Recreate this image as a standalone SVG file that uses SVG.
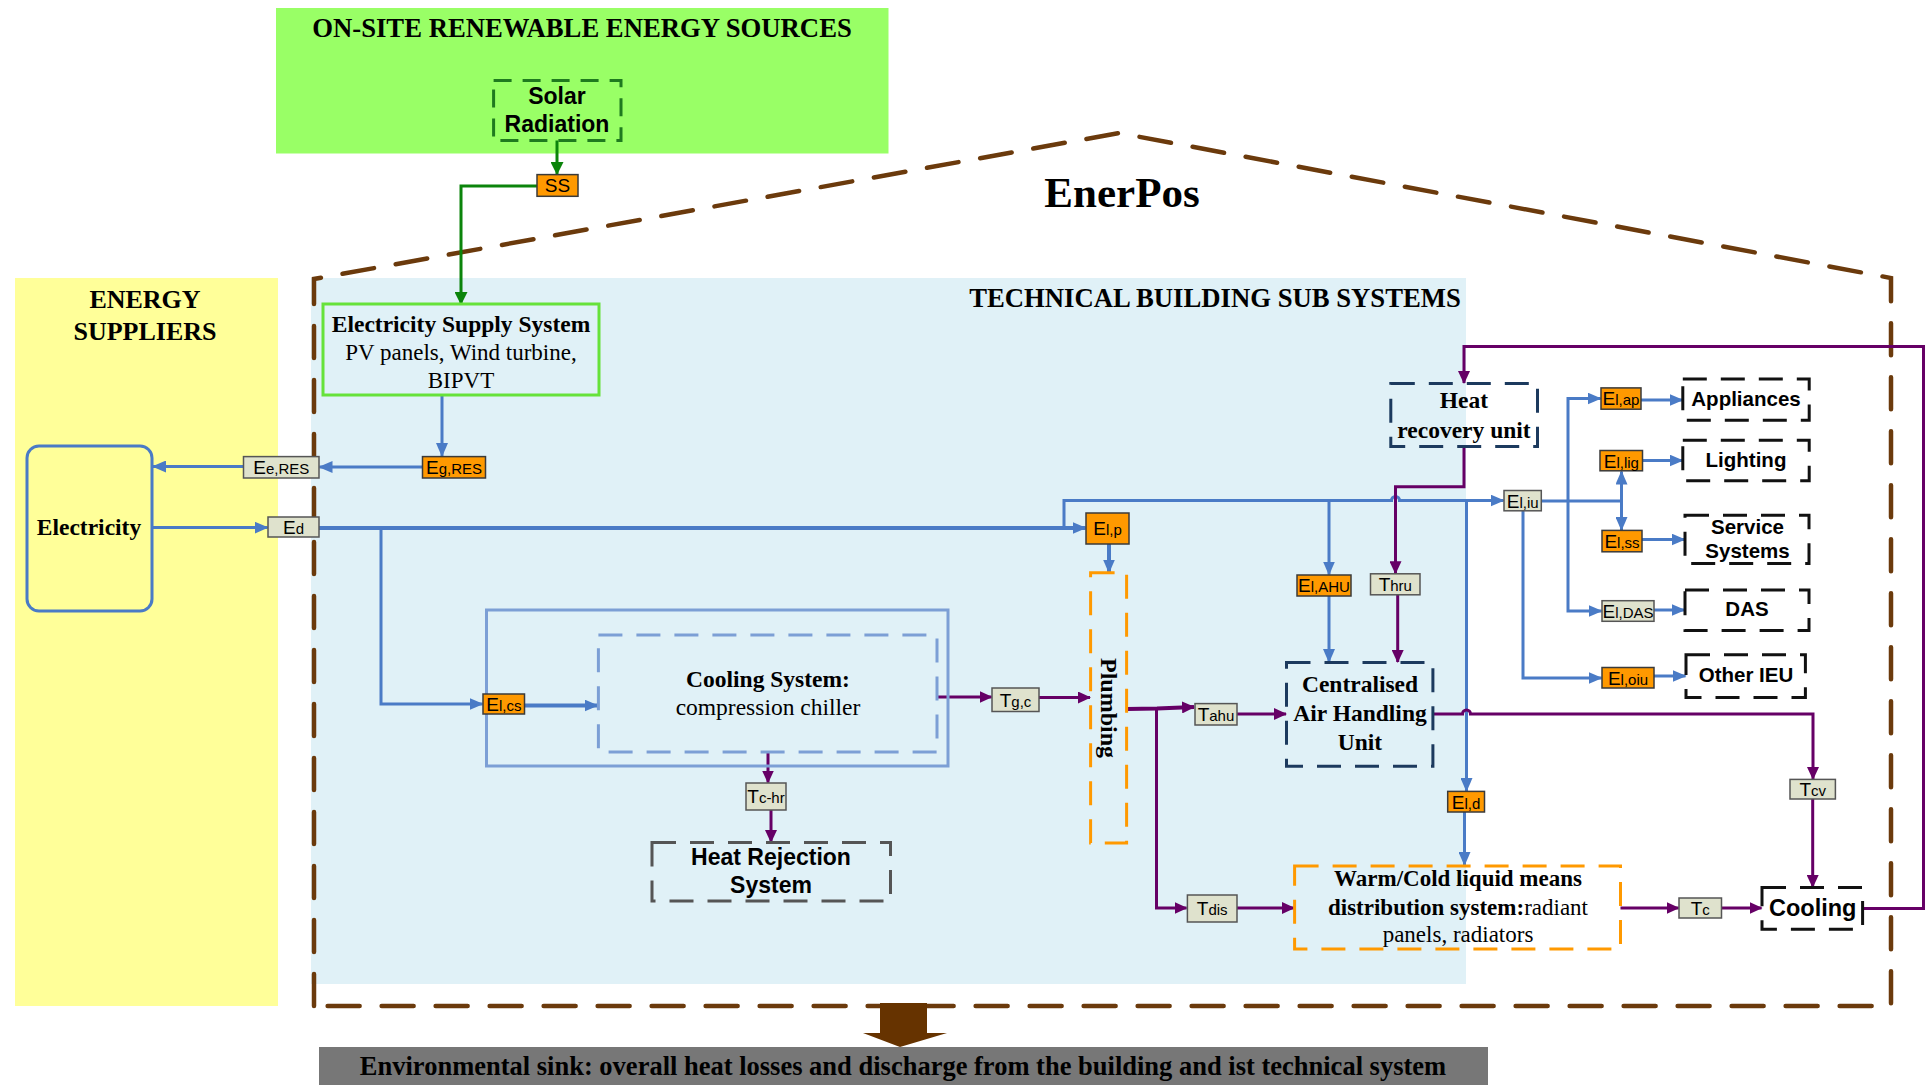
<svg xmlns="http://www.w3.org/2000/svg" width="1926" height="1085" viewBox="0 0 1926 1085">
<defs>
<style>
.ser{font-family:"Liberation Serif","Times New Roman",serif;}
.san{font-family:"Liberation Sans",Arial,sans-serif;}
.b{font-weight:bold;}
.n{font-weight:normal;}
.mid{text-anchor:middle;}
.lab{font-family:"Liberation Sans",Arial,sans-serif;font-size:19px;text-anchor:middle;fill:#000;}
.sub{font-size:15px;}
.lo{fill:#ff9900;stroke:#3a3a3a;stroke-width:1.5;}
.lb{fill:#dfe2cd;stroke:#555;stroke-width:1.5;}
.bl{stroke:#4a7bc6;stroke-width:3;fill:none;}
.blt{stroke:#4a7bc6;stroke-width:4;fill:none;}
.pu{stroke:#660066;stroke-width:3;fill:none;}
.put{stroke:#660066;stroke-width:4;fill:none;}
.gr{stroke:#0b840b;stroke-width:3;fill:none;}
.dk{fill:none;stroke:#111;stroke-width:3;stroke-dasharray:24 14;}
.dn{fill:none;stroke:#1c3a5e;stroke-width:3;stroke-dasharray:24 14;}
.dor{fill:none;stroke:#ff9900;stroke-width:3;stroke-dasharray:24 14;}
.dg{fill:none;stroke:#555;stroke-width:3;stroke-dasharray:24 14;}
</style>
<marker id="mb" viewBox="0 0 14 12" markerWidth="14" markerHeight="12" refX="13" refY="6" orient="auto" markerUnits="userSpaceOnUse"><path d="M0,0 L14,6 L0,12 z" fill="#4a7bc6"/></marker>
<marker id="mp" viewBox="0 0 13 12" markerWidth="13" markerHeight="12" refX="12" refY="6" orient="auto" markerUnits="userSpaceOnUse"><path d="M0,0 L13,6 L0,12 z" fill="#660066"/></marker>
<marker id="mg" viewBox="0 0 13 13" markerWidth="13" markerHeight="13" refX="12" refY="6.5" orient="auto" markerUnits="userSpaceOnUse"><path d="M0,0 L13,6.5 L0,13 z" fill="#0b840b"/></marker>
</defs>
<rect width="1926" height="1085" fill="#ffffff"/>

<!-- regions -->
<g id="renewables-region">
<rect x="276" y="8" width="612.5" height="145.5" fill="#99ff66"/>
<text class="ser b mid" x="582" y="37" font-size="26.7">ON-SITE RENEWABLE ENERGY SOURCES</text>
</g>
<g id="suppliers-region">
<rect x="15" y="278" width="263" height="728" fill="#ffff99"/>
<text class="ser b mid" x="145" y="308" font-size="26">ENERGY</text>
<text class="ser b mid" x="145" y="339.5" font-size="26">SUPPLIERS</text>
</g>
<g id="technical-region">
<rect x="311" y="278" width="1155" height="706" fill="#e0f1f7"/>
<text class="ser b mid" x="1215" y="306.5" font-size="26.7">TECHNICAL BUILDING SUB SYSTEMS</text>
</g>
<g id="enerpos-building">
<path d="M314,1006 L314,279 L1119,133 L1891,278 L1891,1006 Z" fill="none" stroke="#6b3a0c" stroke-width="4.5" stroke-linecap="round" stroke-dasharray="32 22"/>
<text class="ser b mid" x="1122" y="206.5" font-size="43">EnerPos</text>
</g>
<g id="environmental-sink">
<path d="M880,1003 H927 V1033 H947 L900,1047 L863,1033 H880 Z" fill="#663300"/>
<rect x="319" y="1047" width="1169" height="38" fill="#777777"/>
<text class="ser b mid" x="903" y="1075" font-size="26.5">Environmental sink: overall heat losses and discharge from the building and ist technical system</text>
</g>

<!-- connectors -->
<g id="connectors">
<path class="gr" d="M557,140.5 V174" marker-end="url(#mg)"/>
<path class="gr" d="M537,186 H461 V304" marker-end="url(#mg)"/>
<path class="bl" d="M442,395 V456" marker-end="url(#mb)"/>
<path class="bl" d="M422.5,467 H319.5" marker-end="url(#mb)"/>
<path class="bl" d="M243.5,466.5 H153" marker-end="url(#mb)"/>
<path class="bl" d="M152,527.6 H267.5" marker-end="url(#mb)"/>
<path class="blt" d="M319,528 H1085.5" marker-end="url(#mb)"/>
<path class="bl" d="M381,528 V704 H482.5" marker-end="url(#mb)"/>
<path class="blt" d="M524.5,705.5 H597.5" marker-end="url(#mb)"/>
<path class="bl" d="M1064,528 V500.5 H1391.5 A4,4 0 0 1 1399.5,500.5 H1503.5" marker-end="url(#mb)"/>
<path class="blt" d="M1109,544 V572.5" marker-end="url(#mb)"/>
<path class="bl" d="M1329,500.5 V574.5" marker-end="url(#mb)"/>
<path class="bl" d="M1329,596 V662" marker-end="url(#mb)"/>
<path class="bl" d="M1466.5,500.5 V791" marker-end="url(#mb)"/>
<path class="bl" d="M1464.5,812 V865" marker-end="url(#mb)"/>
<path class="bl" d="M1541,501 H1621.5"/>
<path class="bl" d="M1621.5,501 V471.5" marker-end="url(#mb)"/>
<path class="bl" d="M1621.5,501 V530" marker-end="url(#mb)"/>
<path class="bl" d="M1568,501 V398.5 H1600.5" marker-end="url(#mb)"/>
<path class="bl" d="M1568,501 V611 H1601.5" marker-end="url(#mb)"/>
<path class="bl" d="M1523,511 V678 H1601.5" marker-end="url(#mb)"/>
<path class="bl" d="M1641,400 H1682.5" marker-end="url(#mb)"/>
<path class="bl" d="M1642.5,460.5 H1682.5" marker-end="url(#mb)"/>
<path class="bl" d="M1642,539.5 H1684.5" marker-end="url(#mb)"/>
<path class="bl" d="M1654,610 H1684.5" marker-end="url(#mb)"/>
<path class="bl" d="M1654,676 H1685.5" marker-end="url(#mb)"/>

<path class="pu" d="M936,697 H991.5" marker-end="url(#mp)"/>
<path class="pu" d="M1039,697.5 H1090" marker-end="url(#mp)"/>
<path class="pu" d="M768,752 V782.5" marker-end="url(#mp)"/>
<path class="pu" d="M771,810 V842" marker-end="url(#mp)"/>
<path class="put" d="M1127,709 L1157,708.5 L1194,707" marker-end="url(#mp)"/>
<path class="pu" d="M1156.5,708.5 V908 H1186.5" marker-end="url(#mp)"/>
<path class="pu" d="M1237,714 H1286" marker-end="url(#mp)"/>
<path class="pu" d="M1237,908 H1294" marker-end="url(#mp)"/>
<path class="pu" d="M1433,714 H1462.5 A4,4 0 0 1 1470.5,714 H1813 V779" marker-end="url(#mp)"/>
<path class="pu" d="M1812.7,799 V887" marker-end="url(#mp)"/>
<path class="pu" d="M1620.5,908 H1678.5" marker-end="url(#mp)"/>
<path class="pu" d="M1721.5,908 H1761.5" marker-end="url(#mp)"/>
<path class="pu" d="M1862.6,908.4 H1923.5 V346.5 H1464 V383" marker-end="url(#mp)"/>
<path class="pu" d="M1464,446.4 V486.7 H1395.5 V573.3" marker-end="url(#mp)"/>
<path class="pu" d="M1397.7,594.8 V662" marker-end="url(#mp)"/>
</g>

<!-- nodes -->
<g id="solar-radiation">
<rect x="493.6" y="80.6" width="127.4" height="60" fill="none" stroke="#1f7a1f" stroke-width="3" stroke-dasharray="18 11"/>
<text class="san b mid" x="557" y="103.5" font-size="23">Solar</text>
<text class="san b mid" x="557" y="131.5" font-size="23">Radiation</text>
</g>
<g id="electricity-supply-system">
<rect x="323" y="304" width="276" height="91" fill="none" stroke="#66e23a" stroke-width="3"/>
<text class="ser b mid" x="461" y="332" font-size="23.5">Electricity Supply System</text>
<text class="ser mid" x="461" y="360" font-size="23">PV panels, Wind turbine,</text>
<text class="ser mid" x="461" y="388" font-size="23">BIPVT</text>
</g>
<g id="electricity">
<rect x="27" y="446" width="125" height="165" rx="12" fill="none" stroke="#4a7bc6" stroke-width="3"/>
<text class="ser b mid" x="89" y="535" font-size="23.5">Electricity</text>
</g>
<g id="cooling-system">
<rect x="486.5" y="610" width="461.5" height="156" fill="none" stroke="#7c9fd5" stroke-width="3"/>
<rect x="598.4" y="635" width="338.6" height="117" fill="none" stroke="#7c9fd5" stroke-width="3" stroke-dasharray="24 14"/>
<text class="ser b mid" x="768" y="687" font-size="23.5">Cooling System:</text>
<text class="ser mid" x="768" y="714.5" font-size="23.5">compression chiller</text>
</g>
<g id="heat-rejection-system">
<rect class="dg" x="652" y="842.5" width="238.5" height="58.5"/>
<text class="san b mid" x="771" y="865" font-size="23">Heat Rejection</text>
<text class="san b mid" x="771" y="892.5" font-size="23">System</text>
</g>
<g id="plumbing">
<rect class="dor" x="1090.6" y="572.8" width="36" height="270.2"/>
<text class="ser b mid" transform="translate(1108,708) rotate(90)" x="0" y="7.5" font-size="24">Plumbing</text>
</g>
<g id="air-handling-unit">
<rect class="dn" x="1286.5" y="662.6" width="146.4" height="103.7"/>
<text class="ser b mid" x="1360" y="692" font-size="23.5">Centralised</text>
<text class="ser b mid" x="1360" y="721" font-size="23.5">Air Handling</text>
<text class="ser b mid" x="1360" y="749.5" font-size="23.5">Unit</text>
</g>
<g id="heat-recovery-unit">
<rect class="dn" x="1390.8" y="383.4" width="146.7" height="63"/>
<text class="ser b mid" x="1464" y="407.5" font-size="23.5">Heat</text>
<text class="ser b mid" x="1464" y="437.5" font-size="23.5">recovery unit</text>
</g>
<g id="distribution-system">
<rect class="dor" x="1294.6" y="866" width="325.9" height="83"/>
<text class="ser b mid" x="1458" y="886" font-size="23">Warm/Cold liquid means</text>
<text class="ser mid" x="1458" y="914.5" font-size="23"><tspan class="b">distribution system:</tspan>radiant</text>
<text class="ser mid" x="1458" y="942" font-size="23">panels, radiators</text>
</g>
<g id="appliances">
<rect class="dk" x="1682.8" y="379" width="126.4" height="41.2"/>
<text class="san b mid" x="1746" y="406" font-size="20.5">Appliances</text>
</g>
<g id="lighting">
<rect class="dk" x="1682.8" y="440.2" width="126.4" height="40.6"/>
<text class="san b mid" x="1746" y="467" font-size="20.5">Lighting</text>
</g>
<g id="service-systems">
<rect class="dk" x="1685" y="515.3" width="124" height="48.2"/>
<text class="san b mid" x="1747.5" y="534" font-size="20.5">Service</text>
<text class="san b mid" x="1747.5" y="557.5" font-size="20.5">Systems</text>
</g>
<g id="das">
<rect class="dk" x="1685" y="590" width="124" height="40.6"/>
<text class="san b mid" x="1747" y="616" font-size="20.5">DAS</text>
</g>
<g id="other-ieu">
<rect class="dk" x="1686" y="654.7" width="119.4" height="42.7"/>
<text class="san b mid" x="1746" y="682" font-size="20.5">Other IEU</text>
</g>
<g id="cooling">
<rect class="dk" x="1762" y="887.6" width="100.6" height="41.7"/>
<text class="san b mid" x="1812.7" y="915.5" font-size="23.5">Cooling</text>
</g>

<!-- flow labels -->
<g id="label-SS"><rect class="lo" x="537" y="174.6" width="41" height="21.7"/><text class="lab" x="557.5" y="192.3">SS</text></g>
<g id="label-Eg-RES"><rect class="lo" x="422.5" y="456.6" width="63" height="21.4"/><text class="lab" x="454" y="474">E<tspan class="sub">g,RES</tspan></text></g>
<g id="label-Ee-RES"><rect class="lb" x="243.5" y="456.6" width="75.5" height="21.4"/><text class="lab" x="281.3" y="474">E<tspan class="sub">e,RES</tspan></text></g>
<g id="label-Ed"><rect class="lb" x="268" y="517" width="51" height="20"/><text class="lab" x="293.5" y="534">E<tspan class="sub">d</tspan></text></g>
<g id="label-El-p"><rect class="lo" x="1086" y="513" width="43" height="31"/><text class="lab" x="1107.5" y="535.3">E<tspan class="sub">l,p</tspan></text></g>
<g id="label-El-cs"><rect class="lo" x="483" y="694" width="41.5" height="20"/><text class="lab" x="503.8" y="710.8">E<tspan class="sub">l,cs</tspan></text></g>
<g id="label-Tg-c"><rect class="lb" x="992" y="688" width="47" height="23.5"/><text class="lab" x="1015.5" y="706.5">T<tspan class="sub">g,c</tspan></text></g>
<g id="label-Tc-hr"><rect class="lb" x="746" y="783" width="40" height="27"/><text class="lab" x="766" y="803.3">T<tspan class="sub">c-hr</tspan></text></g>
<g id="label-Tahu"><rect class="lb" x="1195" y="703.6" width="42" height="21.4"/><text class="lab" x="1216" y="721.1">T<tspan class="sub">ahu</tspan></text></g>
<g id="label-Tdis"><rect class="lb" x="1187.4" y="895" width="49.6" height="27"/><text class="lab" x="1212.2" y="915.3">T<tspan class="sub">dis</tspan></text></g>
<g id="label-El-AHU"><rect class="lo" x="1297" y="575" width="54" height="21"/><text class="lab" x="1324" y="592.3">E<tspan class="sub">l,AHU</tspan></text></g>
<g id="label-Thru"><rect class="lb" x="1370.5" y="573.8" width="49.5" height="21"/><text class="lab" x="1395.3" y="591.1">T<tspan class="sub">hru</tspan></text></g>
<g id="label-El-iu"><rect class="lb" x="1504" y="490.5" width="37.3" height="20.3"/><text class="lab" x="1522.7" y="507.5">E<tspan class="sub">l,iu</tspan></text></g>
<g id="label-El-d"><rect class="lo" x="1447.7" y="791.4" width="36.8" height="20.6"/><text class="lab" x="1466.1" y="808.5">E<tspan class="sub">l,d</tspan></text></g>
<g id="label-El-ap"><rect class="lo" x="1601" y="387.9" width="40" height="21.3"/><text class="lab" x="1621" y="405.3">E<tspan class="sub">l,ap</tspan></text></g>
<g id="label-El-lig"><rect class="lo" x="1600" y="450.5" width="42.5" height="20.3"/><text class="lab" x="1621.3" y="467.5">E<tspan class="sub">l,lig</tspan></text></g>
<g id="label-El-ss"><rect class="lo" x="1602" y="530.4" width="40" height="21.4"/><text class="lab" x="1622" y="547.9">E<tspan class="sub">l,ss</tspan></text></g>
<g id="label-El-DAS"><rect class="lb" x="1602" y="600.7" width="52" height="20.6"/><text class="lab" x="1628" y="617.8">E<tspan class="sub">l,DAS</tspan></text></g>
<g id="label-El-oiu"><rect class="lo" x="1602" y="667.5" width="52" height="20.5"/><text class="lab" x="1628" y="684.6">E<tspan class="sub">l,oiu</tspan></text></g>
<g id="label-Tcv"><rect class="lb" x="1790" y="779.4" width="45.4" height="19.6"/><text class="lab" x="1812.7" y="796">T<tspan class="sub">cv</tspan></text></g>
<g id="label-Tc"><rect class="lb" x="1679" y="898" width="42.5" height="20"/><text class="lab" x="1700.3" y="914.8">T<tspan class="sub">c</tspan></text></g>
</svg>
